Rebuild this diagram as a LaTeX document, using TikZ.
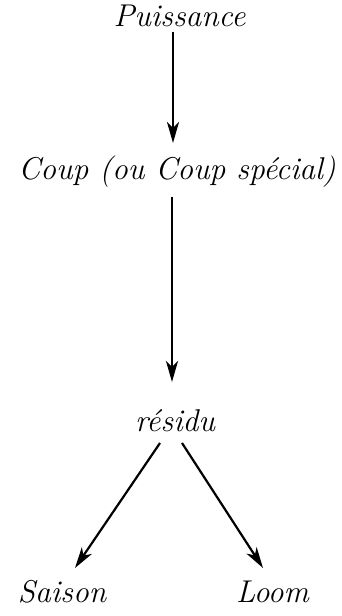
\documentclass[tikz,border=0pt]{standalone}
\usetikzlibrary{arrows.meta}
\begin{document}
\begin{tikzpicture}[x=1pt,y=1pt,
  label/.style={inner sep=0pt, anchor=base, font=\fontsize{31.5}{34}\selectfont\itshape},
  link/.style={line width=2.6pt, -{Stealth[length=21pt, width=12pt, inset=6pt]}},
  slant/.style={line width=2.2pt, -{Stealth[length=21pt, width=12pt, inset=6pt]}}]
  \useasboundingbox (0,0) rectangle (341,616);
  \fill[white] (0,0) rectangle (341,616);
  % terms
  \node[label] (p) at (179.5,589) {Puissance};
  \node[label] (c) at (177,436) {Coup (ou Coup spécial)};
  \node[label] (r) at (175,184) {résidu};
  \node[label] (s) at (62,13) {Saison};
  \node[label] (l) at (272.5,13) {Loom};
  % derivations
  \draw[link] ([xshift=-6.5pt,yshift=-5pt]p.base) -- ([xshift=-4pt,yshift=37pt]c.base);
  \draw[link] ([xshift=-5pt,yshift=-17pt]c.base) -- ([xshift=-3pt,yshift=50pt]r.base);
  \draw[slant] ([xshift=-15pt,yshift=-11pt]r.base) -- ([xshift=13pt,yshift=35pt]s.base);
  \draw[slant] ([xshift=7pt,yshift=-11pt]r.base) -- ([xshift=-9.5pt,yshift=35pt]l.base);
\end{tikzpicture}
\end{document}
